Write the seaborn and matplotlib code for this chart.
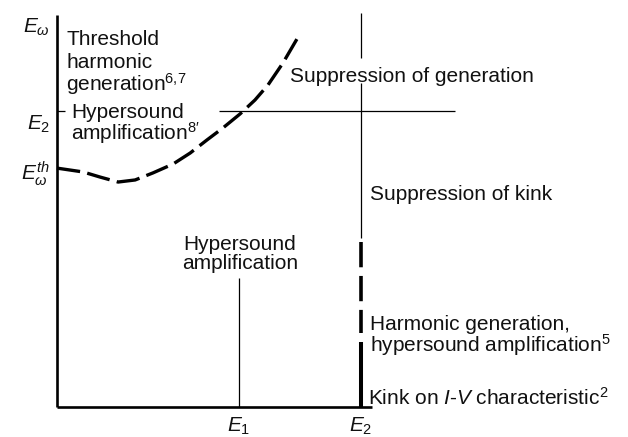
import matplotlib
matplotlib.use("Agg")
import matplotlib.pyplot as plt
import seaborn as sns

# field axis in units of E2, E_omega axis in units of its E2 level
E1 = 0.599
E2 = 1.0
EW_TH = 0.807
EW_E2 = 1.0

# threshold curve
curve_x = [0.0, 0.086, 0.141, 0.201, 0.257, 0.316, 0.382, 0.438,
           0.493, 0.546, 0.602, 0.651, 0.694, 0.743, 0.793]
curve_y = [0.807, 0.794, 0.777, 0.760, 0.767, 0.791, 0.821, 0.858,
           0.902, 0.943, 0.990, 1.037, 1.088, 1.162, 1.250]

# extents of the guide lines
X_AXIS_END = 1.036
Y_AXIS_TOP = 1.324
E1_TOP = 0.436
HLINE_X = [0.533, 1.309]
TICK_X = [0.0, 0.026]
# the E2 vertical, top to bottom
E2_TOP = [1.331, 1.179]
E2_THIN = [1.095, 0.571]
E2_DASHED = [0.557, 0.250]
E2_THICK = [0.220, 0.0]

sns.set_style("white")
plt.rcParams["font.family"] = ["Liberation Sans", "DejaVu Sans"]
plt.rcParams["mathtext.fontset"] = "custom"
plt.rcParams["mathtext.rm"] = "Liberation Sans"
plt.rcParams["mathtext.it"] = "Liberation Sans:italic"
plt.rcParams["mathtext.bf"] = "Liberation Sans:bold"

fig = plt.figure(figsize=(6.28, 4.37), dpi=100)
ax = fig.add_axes([0, 0, 1, 1])
ax.set_xlim(-0.1875, 1.878)
ax.set_ylim(-0.1014, 1.375)
ax.axis("off")


def seg(x, y, lw, ls="-"):
    sns.lineplot(x=x, y=y, ax=ax, color="black", lw=lw, linestyle=ls,
                 estimator=None, sort=False,
                 solid_capstyle="butt", dash_capstyle="butt")


# axes
seg([0, 0], [0, Y_AXIS_TOP], 1.9)
seg([0, X_AXIS_END], [0, 0], 1.9)
# guide lines
seg([E1, E1], [0, E1_TOP], 0.9)
seg(HLINE_X, [EW_E2, EW_E2], 0.9)
seg(TICK_X, [EW_E2, EW_E2], 0.9)
seg([E2, E2], E2_TOP, 0.9)
seg([E2, E2], E2_THIN, 0.9)
seg([E2, E2], E2_DASHED, 2.6, (0, (7.0, 2.4)))
seg([E2, E2], E2_THICK, 2.9)
# threshold curve
seg(curve_x, curve_y, 2.4, (0, (7.0, 2.2)))

TXT = dict(fontsize=15, color="#111111", va="baseline")
ax.text(0.030, 1.223, "Threshold", **TXT)
ax.text(0.030, 1.145, "harmonic", **TXT)
ax.text(0.030, 1.068, "generation$^{6{,}7}$", **TXT)
ax.text(0.046, 0.976, "Hypersound", **TXT)
ax.text(0.046, 0.902, r"amplification$^{8\prime}$", **TXT)
ax.text(0.766, 1.098, "Suppression of generation", **TXT)
ax.text(1.030, 0.699, "Suppression of kink", **TXT)
ax.text(0.602, 0.530, "Hypersound", ha="center", **TXT)
ax.text(0.602, 0.466, "amplification", ha="center", **TXT)
ax.text(1.030, 0.260, "Harmonic generation,", **TXT)
ax.text(1.030, 0.186, "hypersound amplification$^5$", **TXT)
ax.text(1.023, 0.007, "Kink on $I$-$V$ characteristic$^2$", **TXT)

LAB = dict(fontsize=15, color="#111111", va="baseline")
ax.text(-0.023, 1.264, r"$E_\omega$", ha="right", **LAB)
ax.text(-0.023, 0.936, r"$E_2$", ha="right", **LAB)
ax.text(-0.023, 0.767, r"$E_\omega^{th}$", ha="right", **LAB)
ax.text(E1, -0.084, r"$E_1$", ha="center", **LAB)
ax.text(E2, -0.084, r"$E_2$", ha="center", **LAB)

fig.savefig("out.png", dpi=100, facecolor="white")
